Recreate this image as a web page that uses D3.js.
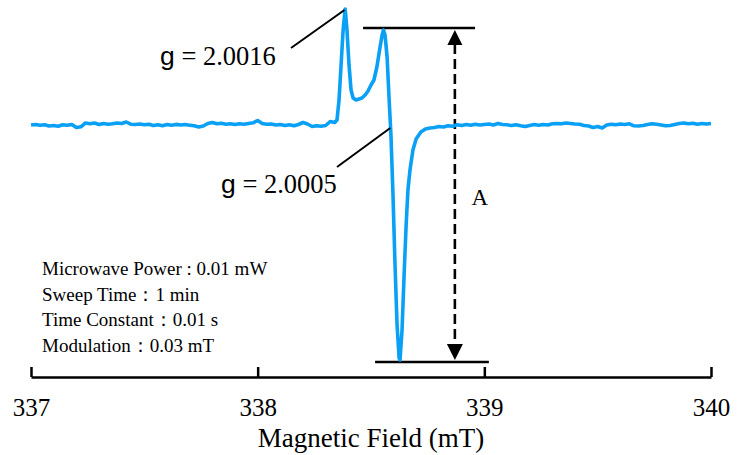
<!DOCTYPE html>
<html lang="en">
<head>
  <meta charset="UTF-8">
  <title>EPR Spectrum</title>
  <script src="https://d3js.org/d3.v7.min.js"></script>
  <style>
    body { margin: 0; background: #fff; }
    .serif { font-family: 'Liberation Serif', 'Times New Roman', Times, 'DejaVu Serif', serif; }
    .sans { font-family: 'Liberation Sans', Arial, sans-serif; }
  </style>
</head>
<body>
  <svg width="739" height="455"></svg>

  <script>
    const leftStart = 337.00;
    const leftNoise = [0, 0.5, -0.3, 0.2, -1, -0.5, -1.2, 0.3, -0.2, 0.5,
      -2.5, -1.8, 2, 1.2, 2, 0.5, 1.5, 0.8, 1.2, 2,
      1.5, 3, 0.8, 0.5, 1, 0.2, 0.8, -0.5, 0.2, -0.8,
      0.5, -0.3, 0.6, 0, 0.5, -0.2, -0.8, -2, -1, 1.5,
      2.5, 1.2, 1.8, 0.8, 1.2, 0.5, 1.3, 0.8, 1.5, 2.2,
      4.5, 1.5, 0.8, 1, 0, 0.5, -0.5, 0.3, -0.8, 0.5,
      2.5, 1, -1.5, -0.8, -1.2, -0.5, 3.5, 2.5];

    // the signal itself: [field (mT), intensity]
    const signal = [
      [338.350, 5], [338.359, 25], [338.368, 60], [338.377, 95], [338.386, 116],
      [338.394, 95], [338.403, 60], [338.412, 35], [338.421, 27], [338.434, 25],
      [338.447, 26], [338.460, 27], [338.474, 30], [338.487, 34], [338.500, 40],
      [338.513, 45], [338.526, 58], [338.540, 78], [338.549, 90], [338.555, 95],
      [338.562, 90], [338.571, 68], [338.579, 30], [338.588, -10], [338.597, -70],
      [338.606, -140], [338.615, -200], [338.624, -233], [338.628, -235], [338.637, -205],
      [338.646, -150], [338.655, -100], [338.663, -65], [338.672, -45], [338.685, -25],
      [338.699, -14]
    ];

    const rightStart = 338.72;
    const rightNoise = [-7, -4, -3, -2.5, -1.5, -2, -0.8, -1.2, 0.2, -0.5,
      0.5, -0.3, 0.8, 0, 0.5, 1, 0, 1.5, 0.5, 0.2,
      -0.5, 0.3, -0.8, -1.5, -0.5, 0.5, -0.2, 0.5, 0, 1.2,
      1.5, 1.2, 2, 1.5, 1, 0.8, -0.5, -1, -2.5, -1.5,
      -3, 0, 0.8, 0.2, 1, 0.5, 1.2, -0.8, -1, -0.5,
      0.5, 1.2, 0.8, 0, -0.8, -0.5, 0.5, 1.5, 2, 1.2,
      1.8, 0.8, 1.5, 1, 1.5];
    const step = 0.02;

    const xTicks = [337, 338, 339, 340];
    const peakLabels = ['2.0016', '2.0005'];
    const conditions = [
      'Microwave Power : 0.01 mW',
      'Sweep Time：1 min',
      'Time Constant：0.01 s',
      'Modulation：0.03 mT'
    ];

    const spectrum = [
      ...leftNoise.map((v, i) => [leftStart + i * step, v]),
      ...signal,
      ...rightNoise.map((v, i) => [rightStart + i * step, v])
    ];

    const svg = d3.select('svg');

    const x = d3.scaleLinear().domain([337, 340]).range([31, 711]);
    const y = d3.scaleLinear().domain([-240, 120]).range([365, 5]);

    // x axis, ticks pointing up
    const axis = svg.append('g')
      .attr('transform', 'translate(0,377)')
      .call(d3.axisBottom(x).tickValues(xTicks).tickSize(-10).tickSizeOuter(0).tickPadding(21).tickFormat(d3.format('d')));
    axis.attr('font-family', null).attr('font-size', null);
    axis.select('.domain').attr('stroke-width', 2.5);
    axis.selectAll('.tick line').attr('stroke-width', 2.5);
    axis.selectAll('.tick text')
      .attr('class', 'serif')
      .attr('font-size', 25)
      .attr('fill', '#000');

    svg.append('text')
      .attr('class', 'serif')
      .attr('x', 371)
      .attr('y', 447)
      .attr('text-anchor', 'middle')
      .attr('font-size', 27)
      .text('Magnetic Field (mT)');

    // A: peak-to-peak markers
    const peak2 = 95, trough = -235;
    svg.append('line')
      .attr('x1', x(338.465)).attr('x2', x(338.959))
      .attr('y1', y(peak2) - 2).attr('y2', y(peak2) - 2)
      .attr('stroke', '#000').attr('stroke-width', 2.5);
    svg.append('line')
      .attr('x1', x(338.518)).attr('x2', x(339.02))
      .attr('y1', y(trough) + 2).attr('y2', y(trough) + 2)
      .attr('stroke', '#000').attr('stroke-width', 2.5);

    const ax = x(338.87);
    svg.append('line')
      .attr('x1', ax).attr('x2', ax)
      .attr('y1', y(peak2) + 14).attr('y2', y(trough) - 16)
      .attr('stroke', '#000').attr('stroke-width', 2.6)
      .attr('stroke-dasharray', '10,5');
    svg.append('path')
      .attr('d', `M${ax},${y(peak2)}L${ax - 7.5},${y(peak2) + 15}L${ax + 7.5},${y(peak2) + 15}Z`)
      .attr('fill', '#000');
    svg.append('path')
      .attr('d', `M${ax},${y(trough)}L${ax - 8},${y(trough) - 16}L${ax + 8},${y(trough) - 16}Z`)
      .attr('fill', '#000');
    svg.append('text')
      .attr('class', 'serif')
      .attr('x', ax + 25).attr('y', 205)
      .attr('text-anchor', 'middle')
      .attr('font-size', 23)
      .text('A');

    // the spectrum
    svg.append('path')
      .datum(spectrum)
      .attr('fill', 'none')
      .attr('stroke', '#0aa0f5')
      .attr('stroke-width', 3.6)
      .attr('stroke-linejoin', 'round')
      .attr('d', d3.line().x(d => x(d[0])).y(d => y(d[1])));

    // g-value labels with leader lines
    svg.append('line')
      .attr('x1', 291).attr('y1', 48).attr('x2', x(338.383)).attr('y2', y(115))
      .attr('stroke', '#000').attr('stroke-width', 2);
    svg.append('line')
      .attr('x1', 337).attr('y1', 167).attr('x2', x(338.585)).attr('y2', 128)
      .attr('stroke', '#000').attr('stroke-width', 2);

    const gLabels = [
      { x: 160, y: 65, v: peakLabels[0] },
      { x: 221, y: 193, v: peakLabels[1] }
    ];
    gLabels.forEach(d => {
      const t = svg.append('text')
        .attr('x', d.x).attr('y', d.y)
        .attr('font-size', 26.5);
      t.append('tspan').attr('class', 'sans').text('g');
      t.append('tspan').attr('class', 'serif').text(' = ' + d.v);
    });

    // measurement conditions
    svg.append('g')
      .selectAll('text')
      .data(conditions)
      .enter().append('text')
      .attr('class', 'serif')
      .attr('x', 42)
      .attr('y', (d, i) => 275 + i * 25.7)
      .attr('font-size', 19)
      .text(d => d);
  </script>
</body>
</html>
